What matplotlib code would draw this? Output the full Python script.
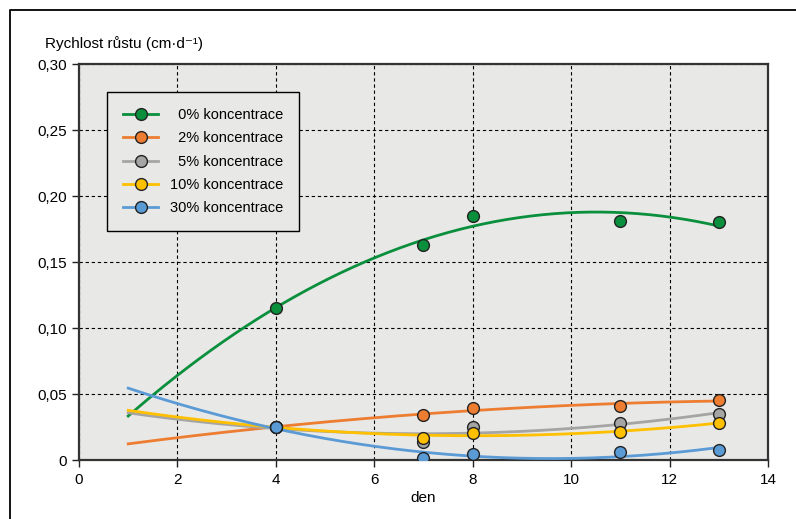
import matplotlib
matplotlib.use('Agg')
import matplotlib.pyplot as plt
import numpy as np
from matplotlib.lines import Line2D
from matplotlib.ticker import FuncFormatter

plt.rcParams['font.family'] = ['Liberation Sans', 'DejaVu Sans']

# data
dny = [4, 7, 8, 11, 13]
koncentrace_0 = [0.115, 0.163, 0.185, 0.181, 0.180]
koncentrace_2 = [0.025, 0.034, 0.0395, 0.041, 0.0455]
koncentrace_5 = [0.025, 0.014, 0.025, 0.028, 0.035]
koncentrace_10 = [0.025, 0.0167, 0.0205, 0.0215, 0.028]
koncentrace_30 = [0.025, 0.0015, 0.0045, 0.006, 0.0076]

popisky = ['\u20070% koncentrace', '\u20072% koncentrace', '\u20075% koncentrace',
           '10% koncentrace', '30% koncentrace']
barvy = ['#0a8f3c', '#ed7d31', '#a5a5a5', '#ffc000', '#5b9bd5']
trend_od, trend_do = 1, 13

serie = [koncentrace_0, koncentrace_2, koncentrace_5, koncentrace_10, koncentrace_30]

fig = plt.figure(figsize=(7.96, 5.19), dpi=100)
ax = fig.add_axes([79/796, 1-460/519, 689/796, 396/519])
ax.set_facecolor('#e8e8e7')

# ramecek kolem (jen horni a leva cara)
fx = 9.5/796
fy = 1 - 9.5/519
fig.add_artist(Line2D([fx, fx, 1], [0, fy, fy], transform=fig.transFigure,
                      color='black', lw=1.3))

xx = np.linspace(trend_od, trend_do, 300)
for y, barva in zip(serie, barvy):
    koef = np.polyfit(dny, y, 2)
    ax.plot(xx, np.polyval(koef, xx), color=barva, lw=2, zorder=3)
for y, barva in zip(serie, barvy):
    ax.plot(dny, y, 'o', color=barva, mec='#222222', mew=1, ms=8.5, zorder=4)

ax.set_xlim(0, 14)
ax.set_ylim(0, 0.30)
ax.set_xticks(np.arange(0, 15, 2))
ax.set_yticks(np.arange(0, 0.301, 0.05))
ax.yaxis.set_major_formatter(FuncFormatter(lambda v, p: '0' if abs(v) < 1e-9 else f'{v:.2f}'.replace('.', ',')))
ax.tick_params(axis='both', labelsize=11, length=5, width=1, direction='out',
               color='#222222', pad=4)
ax.grid(True, color='black', ls=(0, (3, 2.5)), lw=0.8)
ax.set_axisbelow(True)
for s in ax.spines.values():
    s.set_linestyle((0, (2, 1)))
    s.set_color('#333333')
    s.set_linewidth(1.6)

ax.set_xlabel('den', fontsize=11, labelpad=3)
fig.text(45/796, 1-44/519, 'Rychlost růstu (cm·d⁻¹)', fontsize=11,
         ha='left', va='center')

handles = [Line2D([], [], color=b, lw=2, marker='o', mfc=b, mec='#222222', mew=1, ms=8.5)
           for b in barvy]
leg = ax.legend(handles, popisky, loc='upper left',
                bbox_to_anchor=((107-79)/689, (460-92)/396), borderaxespad=0,
                fontsize=10.5, handlelength=2.4, handletextpad=0.8,
                labelspacing=0.64, borderpad=1.1, fancybox=False,
                edgecolor='black', facecolor='#e8e8e7', framealpha=1)
leg.get_frame().set_linewidth(1)

fig.savefig('out.png', dpi=100)
